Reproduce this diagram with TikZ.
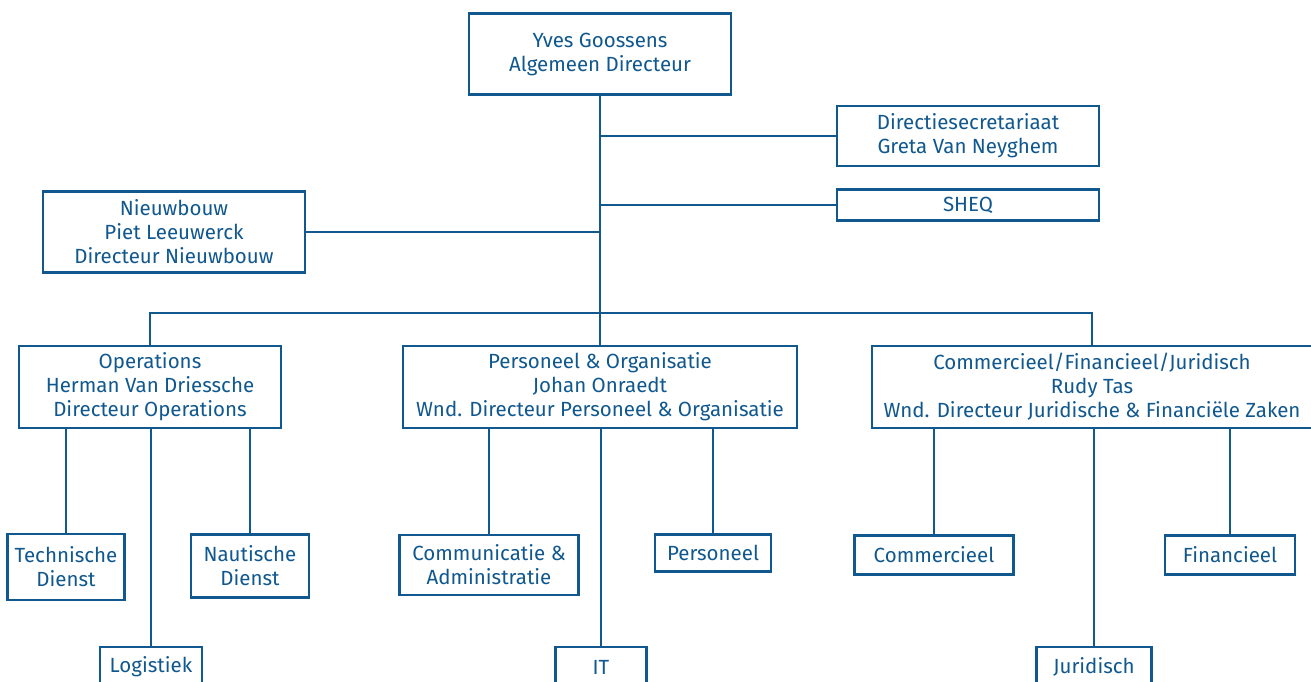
\documentclass[tikz,border=0pt]{standalone}
\usepackage{fontspec}
\setmainfont{Fira Sans}
\definecolor{orgblue}{RGB}{16,88,142}

\begin{document}
\begin{tikzpicture}[x=1pt,y=-1pt]
\tikzstyle{unit} = [draw=orgblue,line width=2.6pt,fill=white,text=orgblue,inner sep=0pt,align=center,font=\fontsize{20.5}{24}\selectfont]
\tikzstyle{link} = [draw=orgblue,line width=2.6pt]
\useasboundingbox (0,0) rectangle (1311,681);
\clip (0,0) rectangle (1311,681);
\def\bus{313}
\node[unit,minimum width=262,minimum height=81] (gm) at (600,54) {Yves Goossens\\Algemeen Directeur};
\node[unit,minimum width=262,minimum height=60] (secr) at (968,136) {Directiesecretariaat\\Greta Van Neyghem};
\node[unit,minimum width=262,minimum height=31] (sheq) at (968,205) {SHEQ};
\node[unit,minimum width=262,minimum height=81] (nieuw) at (174,232) {Nieuwbouw\\Piet Leeuwerck\\Directeur Nieuwbouw};
\node[unit,minimum width=262,minimum height=82] (ops) at (150,387) {Operations\\Herman Van Driessche\\Directeur Operations};
\node[unit,minimum width=394,minimum height=82] (po) at (600,387) {Personeel \& Organisatie\\Johan Onraedt\\Wnd. Directeur Personeel \& Organisatie};
\node[unit,minimum width=440,minimum height=82] (cfj) at (1092,387) {Commercieel/Financieel/Juridisch\\Rudy Tas\\Wnd. Directeur Juridische \& Financiële Zaken};
\node[unit,minimum width=117,minimum height=66] (tech) at (66,567) {Technische\\Dienst};
\node[unit,minimum width=118,minimum height=63] (naut) at (250,566) {Nautische\\Dienst};
\node[unit,minimum width=102,minimum height=40] (log) at (151,667) {Logistiek};
\node[unit,minimum width=179,minimum height=60] (comm) at (489,565) {Communicatie \&\\Administratie};
\node[unit,minimum width=116,minimum height=37] (pers) at (713,553) {Personeel};
\node[unit,minimum width=91,minimum height=40] (it) at (601,667) {IT};
\node[unit,minimum width=159,minimum height=39] (commer) at (934,555) {Commercieel};
\node[unit,minimum width=130,minimum height=39] (fin) at (1230,555) {Financieel};
\node[unit,minimum width=115,minimum height=40] (jur) at (1094,667) {Juridisch};
\coordinate (split) at (600,\bus);
\draw[link] (gm.south) -- (po.north);
\draw[link] (secr.west) -- (secr.west -| gm.south);
\draw[link] (sheq.west) -- (sheq.west -| gm.south);
\draw[link] (nieuw.east) -- (nieuw.east -| gm.south);
\draw[link] (ops.north) |- (split) -| (cfj.north);
\draw[link] (tech.north) -- (tech.north |- ops.south);
\draw[link] (naut.north) -- (naut.north |- ops.south);
\draw[link] (log.north) -- (log.north |- ops.south);
\draw[link] (comm.north) -- (comm.north |- po.south);
\draw[link] (pers.north) -- (pers.north |- po.south);
\draw[link] (it.north) -- (it.north |- po.south);
\draw[link] (commer.north) -- (commer.north |- cfj.south);
\draw[link] (fin.north) -- (fin.north |- cfj.south);
\draw[link] (jur.north) -- (jur.north |- cfj.south);
\end{tikzpicture}
\end{document}
